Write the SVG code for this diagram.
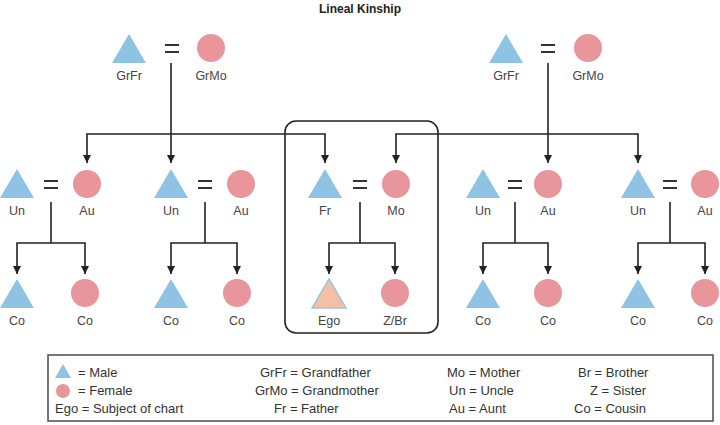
<svg xmlns="http://www.w3.org/2000/svg" width="720" height="425" viewBox="0 0 720 425">
<defs>
<marker id="a" viewBox="0 0 8 10" refX="8" refY="5" markerWidth="8" markerHeight="10" orient="auto-start-reverse" markerUnits="userSpaceOnUse"><path d="M0,1 L8,5 L0,9 Z" fill="#222"/></marker>
<g id="tri"><polygon points="0,-15 17,14 -17,14" fill="#8fc3e4"/></g>
</defs>
<style>
text{font-family:"Liberation Sans",Arial,sans-serif;fill:#444;font-size:12.5px;text-anchor:middle}
.c{fill:#e8959c}
.eq{stroke:#333;stroke-width:2}
.ln{fill:none;stroke:#222;stroke-width:1.6}
.lg{text-anchor:start;font-size:13px;fill:#333}
</style>
<rect width="720" height="425" fill="#fff"/>
<text x="360" y="13" style="font-weight:bold;font-size:12px;fill:#222">Lineal Kinship</text>
<g id="connectors">
<path class="ln" d="M171,63 V163" marker-end="url(#a)"/>
<path class="ln" d="M87,163 V134 H325 V163" marker-end="url(#a)" marker-start="url(#a)"/>
<path class="ln" d="M548,63 V163" marker-end="url(#a)"/>
<path class="ln" d="M396,163 V134 H638 V163" marker-end="url(#a)" marker-start="url(#a)"/>
<path class="ln" d="M51,202 V243"/><path class="ln" d="M17,274 V243 H85 V274" marker-start="url(#a)" marker-end="url(#a)"/>
<path class="ln" d="M205,202 V243"/><path class="ln" d="M171,274 V243 H237 V274" marker-start="url(#a)" marker-end="url(#a)"/>
<path class="ln" d="M360,202 V243"/><path class="ln" d="M329,274 V243 H395 V274" marker-start="url(#a)" marker-end="url(#a)"/>
<path class="ln" d="M515,202 V243"/><path class="ln" d="M483,274 V243 H548 V274" marker-start="url(#a)" marker-end="url(#a)"/>
<path class="ln" d="M670,202 V243"/><path class="ln" d="M638,274 V243 H705 V274" marker-start="url(#a)" marker-end="url(#a)"/>
</g>
<rect id="ego-family" x="285" y="121" width="153" height="212" rx="11" fill="none" stroke="#222" stroke-width="1.6"/>
<g id="gp-left"><use href="#tri" x="129" y="49"/><path class="eq" d="M165,45 H179 M165,52 H179"/><circle class="c" cx="211" cy="48" r="14"/><text x="129" y="80">GrFr</text><text x="211" y="80">GrMo</text></g>
<g id="gp-right"><use href="#tri" x="506" y="49"/><path class="eq" d="M541,45 H555 M541,52 H555"/><circle class="c" cx="588" cy="48" r="14"/><text x="506" y="80">GrFr</text><text x="588" y="80">GrMo</text></g>
<g id="p1"><use href="#tri" x="17" y="184"/><path class="eq" d="M44,181 H58 M44,188 H58"/><circle class="c" cx="87" cy="184" r="14"/><text x="17" y="215">Un</text><text x="87" y="215">Au</text></g>
<g id="p2"><use href="#tri" x="171" y="184"/><path class="eq" d="M198,181 H212 M198,188 H212"/><circle class="c" cx="241" cy="184" r="14"/><text x="171" y="215">Un</text><text x="241" y="215">Au</text></g>
<g id="p3"><use href="#tri" x="325" y="184"/><path class="eq" d="M353,181 H367 M353,188 H367"/><circle class="c" cx="396" cy="184" r="14"/><text x="325" y="215">Fr</text><text x="396" y="215">Mo</text></g>
<g id="p4"><use href="#tri" x="483" y="184"/><path class="eq" d="M508,181 H522 M508,188 H522"/><circle class="c" cx="548" cy="184" r="14"/><text x="483" y="215">Un</text><text x="548" y="215">Au</text></g>
<g id="p5"><use href="#tri" x="638" y="184"/><path class="eq" d="M663,181 H677 M663,188 H677"/><circle class="c" cx="705" cy="184" r="14"/><text x="638" y="215">Un</text><text x="705" y="215">Au</text></g>
<g id="c1"><use href="#tri" x="17" y="294"/><circle class="c" cx="85" cy="293" r="14"/><text x="17" y="325">Co</text><text x="85" y="325">Co</text></g>
<g id="c2"><use href="#tri" x="171" y="294"/><circle class="c" cx="237" cy="293" r="14"/><text x="171" y="325">Co</text><text x="237" y="325">Co</text></g>
<g id="c3"><polygon points="329,279 346,308 312,308" fill="#f4c0a4" stroke="#9fc4dc" stroke-width="1.5"/><circle class="c" cx="395" cy="293" r="14"/><text x="329" y="325">Ego</text><text x="395" y="325">Z/Br</text></g>
<g id="c4"><use href="#tri" x="483" y="294"/><circle class="c" cx="548" cy="293" r="14"/><text x="483" y="325">Co</text><text x="548" y="325">Co</text></g>
<g id="c5"><use href="#tri" x="638" y="294"/><circle class="c" cx="705" cy="293" r="14"/><text x="638" y="325">Co</text><text x="705" y="325">Co</text></g>
<g id="legend">
<rect x="48" y="355" width="665" height="66" fill="#fff" stroke="#555" stroke-width="1.6"/>
<polygon points="63,364 71,378 55,378" fill="#8fc3e4"/>
<circle class="c" cx="63" cy="391" r="7"/>
<text class="lg" x="78" y="377">= Male</text>
<text class="lg" x="78" y="395">= Female</text>
<text class="lg" x="55" y="413">Ego = Subject of chart</text>
<text class="lg" x="260" y="377">GrFr = Grandfather</text>
<text class="lg" x="255" y="395">GrMo = Grandmother</text>
<text class="lg" x="274" y="413">Fr = Father</text>
<text class="lg" x="447" y="377">Mo = Mother</text>
<text class="lg" x="449" y="395">Un = Uncle</text>
<text class="lg" x="449" y="413">Au = Aunt</text>
<text class="lg" x="578" y="377">Br = Brother</text>
<text class="lg" x="590" y="395">Z = Sister</text>
<text class="lg" x="574" y="413">Co = Cousin</text>
</g>
</svg>
